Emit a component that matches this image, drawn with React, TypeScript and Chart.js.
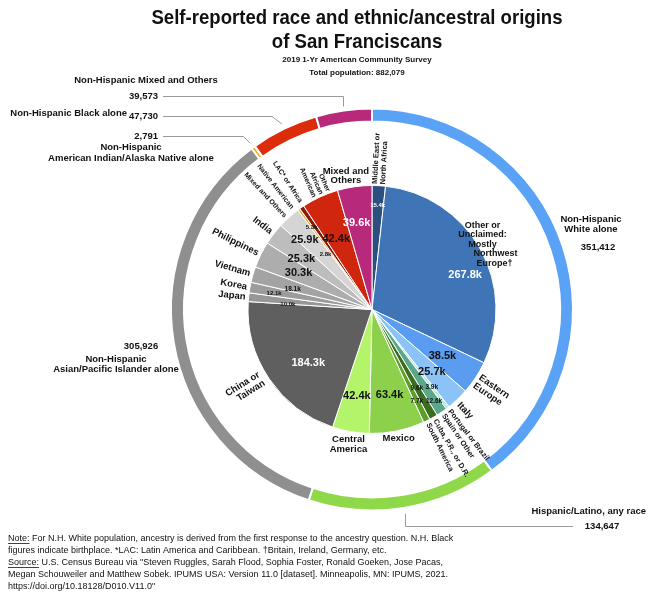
import React, { useEffect, useRef } from 'react';
import { Chart, registerables } from 'chart.js';

Chart.register(...registerables);

// ---------- DATA ----------
const groupLabels = [
  'Non-Hispanic White alone',
  'Hispanic/Latino, any race',
  'Non-Hispanic Asian/Pacific Islander alone',
  'Non-Hispanic American Indian/Alaska Native alone',
  'Non-Hispanic Black alone',
  'Non-Hispanic Mixed and Others',
];
const groupValues = [351412, 134647, 305926, 2791, 47730, 39573];

const originLabels = [
  'Middle East or North Africa',
  'Other or Unclaimed: Mostly Northwest Europe†',
  'Eastern Europe',
  'Italy',
  'Portugal or Brazil',
  'Spain or Other',
  'Cuba, P.R., or D.R.',
  'South America',
  'Mexico',
  'Central America',
  'China or Taiwan',
  'Japan',
  'Korea',
  'Vietnam',
  'Philippines',
  'India',
  'Mixed and Others',
  'Native American',
  'LAC* or Africa',
  'Other African American',
  'Mixed and Others',
];
// thousands
const originValues = [
  15.4, 267.8, 38.5, 25.7, 3.9, 12.6, 9.6, 7.7, 63.4, 42.4,
  184.3, 10.0, 12.1, 18.1, 30.3, 25.3, 25.9, 2.8, 5.3, 42.4, 39.6,
];

// ---------- STYLES ----------
const groupColors = ['#5aa2f6', '#8fd84a', '#8f8f8f', '#f2b42e', '#dd2c0a', '#b8297a'];
const originColors = [
  '#2c4f80', '#3f74b6', '#5a9df0', '#8cc3f7', '#b9ecd8', '#5aa88b', '#3b6e1f', '#5e9d2a',
  '#8dd04c', '#b3f46a',
  '#5f5f5f', '#979797', '#9c9c9c', '#a3a3a3', '#adadad', '#bdbdbd', '#d5d5d5',
  '#f0b43c', '#8a1a0a', '#d0260e', '#b7297a',
];

type NumStyle = { f: number; size: number; color: string; da?: number };
const numStyles: NumStyle[] = [
  { f: 0.84, size: 6, color: '#ffffff' },
  { f: 0.8, size: 11, color: '#ffffff', da: 9 },
  { f: 0.68, size: 11, color: '#111' },
  { f: 0.7, size: 11, color: '#111' },
  { f: 0.79, size: 6.5, color: '#111' },
  { f: 0.89, size: 6.5, color: '#111' },
  { f: 0.73, size: 6.5, color: '#111' },
  { f: 0.82, size: 6.5, color: '#111' },
  { f: 0.7, size: 11, color: '#111' },
  { f: 0.71, size: 11, color: '#111' },
  { f: 0.67, size: 11, color: '#ffffff', da: -6 },
  { f: 0.68, size: 6, color: '#111', da: -2 },
  { f: 0.8, size: 6, color: '#111', da: -1 },
  { f: 0.66, size: 6.5, color: '#111', da: -2 },
  { f: 0.66, size: 11, color: '#111' },
  { f: 0.7, size: 11, color: '#111', da: -2 },
  { f: 0.78, size: 11, color: '#111', da: -2 },
  { f: 0.58, size: 6, color: '#111', da: -4 },
  { f: 0.82, size: 6, color: '#111', da: -2 },
  { f: 0.64, size: 11, color: '#111', da: -2 },
  { f: 0.71, size: 11, color: '#ffffff', da: -2 },
];

type OutStyle = { mode: 'in' | 'out' | 'h'; r: number; size: number; lh: number; da?: number; dx?: number[]; lines: string[] };
const outStyles: OutStyle[] = [
  { mode: 'out', r: 1.5, size: 7.5, lh: 8, lines: ['Middle East or', 'North Africa'] },
  { mode: 'h', r: 6, size: 9, lh: 9.5, da: -1, dx: [-2, -2, -2, 11, 10], lines: ['Other or', 'Unclaimed:', 'Mostly', 'Northwest', 'Europe†'] },
  { mode: 'out', r: 3, size: 9.5, lh: 10, da: 1, lines: ['Eastern', 'Europe'] },
  { mode: 'out', r: 4, size: 9.5, lh: 10, da: 1, lines: ['Italy'] },
  { mode: 'out', r: 3, size: 7.5, lh: 8, lines: ['Portugal or Brazil'] },
  { mode: 'out', r: 3, size: 7.5, lh: 8, lines: ['Spain or Other'] },
  { mode: 'out', r: 3, size: 7.5, lh: 8, lines: ['Cuba, P.R., or D.R.'] },
  { mode: 'out', r: 3, size: 7.5, lh: 8, lines: ['South America'] },
  { mode: 'h', r: 8, size: 9.5, lh: 10, lines: ['Mexico'] },
  { mode: 'h', r: 13, size: 9.5, lh: 10, lines: ['Central', 'America'] },
  { mode: 'in', r: 6, size: 9.5, lh: 10, da: 2, lines: ['China or', 'Taiwan'] },
  { mode: 'in', r: 3, size: 9.5, lh: 10, lines: ['Japan'] },
  { mode: 'in', r: 3, size: 9.5, lh: 10, lines: ['Korea'] },
  { mode: 'in', r: 3, size: 9.5, lh: 10, lines: ['Vietnam'] },
  { mode: 'in', r: 3, size: 9.5, lh: 10, lines: ['Philippines'] },
  { mode: 'in', r: 3, size: 9.5, lh: 10, lines: ['India'] },
  { mode: 'in', r: 3, size: 7, lh: 8, da: -1, lines: ['Mixed and Others'] },
  { mode: 'in', r: 5, size: 7, lh: 8, da: -2, lines: ['Native American'] },
  { mode: 'in', r: 5, size: 7, lh: 8, da: 1, lines: ['LAC* or Africa'] },
  { mode: 'in', r: 2, size: 7, lh: 7.5, da: 1, lines: ['Other', 'African', 'American'] },
  { mode: 'h', r: 12, size: 9.5, lh: 9.5, da: -3, lines: ['Mixed and', 'Others'] },
];

const FONT = '"Liberation Sans", Arial, Helvetica, sans-serif';
const DEG = Math.PI / 180;

const fmtK = (v: number) => v.toFixed(1) + 'k';
const fmtN = (v: number) => v.toLocaleString('en-US');

const labelPlugin = {
  id: 'customLabels',
  afterDatasetsDraw(chart: any) {
    const ctx: CanvasRenderingContext2D = chart.ctx;
    const inner = chart.getDatasetMeta(2).data as any[];
    const outer = chart.getDatasetMeta(0).data as any[];
    ctx.save();
    // inner slice labels
    inner.forEach((arc, i) => {
      const p = arc.getProps(['x', 'y', 'startAngle', 'endAngle', 'outerRadius'], true);
      const mid = (p.startAngle + p.endAngle) / 2;
      const ns = numStyles[i];
      const a = mid + (ns.da || 0) * DEG;
      ctx.font = `bold ${ns.size}px ${FONT}`;
      ctx.fillStyle = ns.color;
      ctx.textAlign = 'center';
      ctx.textBaseline = 'middle';
      ctx.fillText(fmtK(originValues[i]), p.x + Math.cos(a) * p.outerRadius * ns.f, p.y + Math.sin(a) * p.outerRadius * ns.f);

      const os = outStyles[i];
      const b = mid + (os.da || 0) * DEG;
      const R = p.outerRadius + os.r;
      ctx.save();
      ctx.translate(p.x + Math.cos(b) * R, p.y + Math.sin(b) * R);
      ctx.font = `bold ${os.size}px ${FONT}`;
      ctx.fillStyle = '#111';
      const n = os.lines.length;
      if (os.mode === 'h') {
        ctx.textAlign = 'center';
        os.lines.forEach((ln, k) => ctx.fillText(ln, (os.dx && os.dx[k]) || 0, (k - (n - 1) / 2) * os.lh));
      } else if (os.mode === 'out') {
        ctx.rotate(b);
        ctx.textAlign = 'left';
        os.lines.forEach((ln, k) => ctx.fillText(ln, 0, (k - (n - 1) / 2) * os.lh));
      } else {
        ctx.rotate(b + Math.PI);
        ctx.textAlign = 'right';
        os.lines.forEach((ln, k) => ctx.fillText(ln, 0, (k - (n - 1) / 2) * os.lh));
      }
      ctx.restore();
    });

    // outer ring labels with connectors
    const ringPt = (i: number, extra: number, da = 0) => {
      const p = outer[i].getProps(['x', 'y', 'startAngle', 'endAngle', 'outerRadius'], true);
      const a = (p.startAngle + p.endAngle) / 2 + da * DEG;
      return { x: p.x + Math.cos(a) * (p.outerRadius + extra), y: p.y + Math.sin(a) * (p.outerRadius + extra) };
    };
    ctx.strokeStyle = '#9a9a9a';
    ctx.lineWidth = 1;
    const conn = (pts: [number, number][]) => {
      ctx.beginPath();
      pts.forEach(([x, y], k) => (k === 0 ? ctx.moveTo(x, y) : ctx.lineTo(x, y)));
      ctx.stroke();
    };
    let q = ringPt(5, 4);
    conn([[163, 96.5], [Math.round(q.x) + 0.5, 96.5], [Math.round(q.x) + 0.5, q.y]]);
    q = ringPt(4, 5);
    conn([[163, 116.5], [q.x - 10, 116.5], [q.x, q.y]]);
    q = ringPt(3, 5);
    conn([[163, 136.5], [q.x - 7, 136.5], [q.x, q.y]]);
    q = ringPt(1, 6);
    conn([[Math.round(q.x) + 0.5, q.y], [Math.round(q.x) + 0.5, 526.5], [573, 526.5]]);

    ctx.fillStyle = '#111';
    ctx.textBaseline = 'middle';
    const txt = (s: string, x: number, y: number, size: number, align: CanvasTextAlign, sx = 1) => {
      ctx.save();
      ctx.font = `bold ${size}px ${FONT}`;
      ctx.textAlign = align;
      ctx.translate(x, y);
      ctx.scale(sx, 1);
      ctx.fillText(s, 0, 0);
      ctx.restore();
    };
    txt('Non-Hispanic Mixed and Others', 146, 80, 9.5, 'center');
    txt(fmtN(groupValues[5]), 158, 96, 9.5, 'right');
    txt('Non-Hispanic Black alone', 127, 113, 9.5, 'right');
    txt(fmtN(groupValues[4]), 158, 116, 9.5, 'right');
    txt(fmtN(groupValues[3]), 158, 136, 9.5, 'right');
    txt('Non-Hispanic', 131, 147, 9.5, 'center');
    txt('American Indian/Alaska Native alone', 131, 158, 9.5, 'center');
    txt('Non-Hispanic', 591, 219, 9.5, 'center');
    txt('White alone', 591, 229, 9.5, 'center');
    txt(fmtN(groupValues[0]), 598, 247, 9.5, 'center');
    txt(fmtN(groupValues[2]), 141, 346, 9.5, 'center');
    txt('Non-Hispanic', 116, 359, 9.5, 'center');
    txt('Asian/Pacific Islander alone', 116, 369, 9.5, 'center');
    txt('Hispanic/Latino, any race', 646, 511, 9.5, 'right');
    txt(fmtN(groupValues[1]), 602, 526, 9.5, 'center');

    // titles
    txt('Self-reported race and ethnic/ancestral origins', 357, 18.5, 21, 'center', 0.885);
    txt('of San Franciscans', 357, 42.5, 21, 'center', 0.885);
    txt('2019 1-Yr American Community Survey', 357, 60, 8, 'center');
    txt('Total population: 882,079', 357, 73, 8, 'center');

    // notes
    const notes = [
      ['Note:', ' For N.H. White population, ancestry is derived from the first response to the ancestry question. N.H. Black'],
      ['', 'figures indicate birthplace. *LAC: Latin America and Caribbean. †Britain, Ireland, Germany, etc.'],
      ['Source:', ' U.S. Census Bureau via "Steven Ruggles, Sarah Flood, Sophia Foster, Ronald Goeken, Jose Pacas,'],
      ['', 'Megan Schouweiler and Matthew Sobek. IPUMS USA: Version 11.0 [dataset]. Minneapolis, MN: IPUMS, 2021.'],
      ['', 'https://doi.org/10.18128/D010.V11.0"'],
    ];
    ctx.font = `9px ${FONT}`;
    ctx.textAlign = 'left';
    notes.forEach(([u, rest], k) => {
      const y = 538.5 + k * 12;
      let x = 8;
      if (u) {
        ctx.fillText(u, x, y);
        const w = ctx.measureText(u).width;
        ctx.fillRect(x, y + 4.5, w, 0.8);
        x += w;
      }
      ctx.fillText(rest, x, y);
    });
    ctx.restore();
  },
};

export default function App() {
  const ref = useRef<HTMLCanvasElement | null>(null);
  useEffect(() => {
    if (!ref.current) return;
    const chart = new Chart(ref.current, {
      type: 'pie',
      data: {
        labels: originLabels,
        datasets: [
          {
            data: groupValues,
            backgroundColor: groupColors,
            borderColor: '#ffffff',
            borderWidth: 2,
            weight: 13,
          } as any,
          {
            data: [1],
            backgroundColor: 'rgba(0,0,0,0)',
            borderWidth: 0,
            weight: 64,
          } as any,
          {
            data: originValues,
            backgroundColor: originColors,
            borderColor: '#ffffff',
            borderWidth: 1,
            weight: 124,
          } as any,
        ],
      },
      options: {
        responsive: false,
        animation: false,
        events: [],
        radius: 201,
        layout: { padding: { left: 170, right: 83, top: 108, bottom: 89 } },
        plugins: { legend: { display: false }, tooltip: { enabled: false }, title: { display: false } },
      } as any,
      plugins: [labelPlugin as any],
    });
    return () => chart.destroy();
  }, []);
  return (
    <div style={{ position: 'absolute', left: 0, top: 0, width: 657, height: 600, background: '#fff' }}>
      <canvas ref={ref} width={657} height={600} style={{ display: 'block' }} />
    </div>
  );
}
